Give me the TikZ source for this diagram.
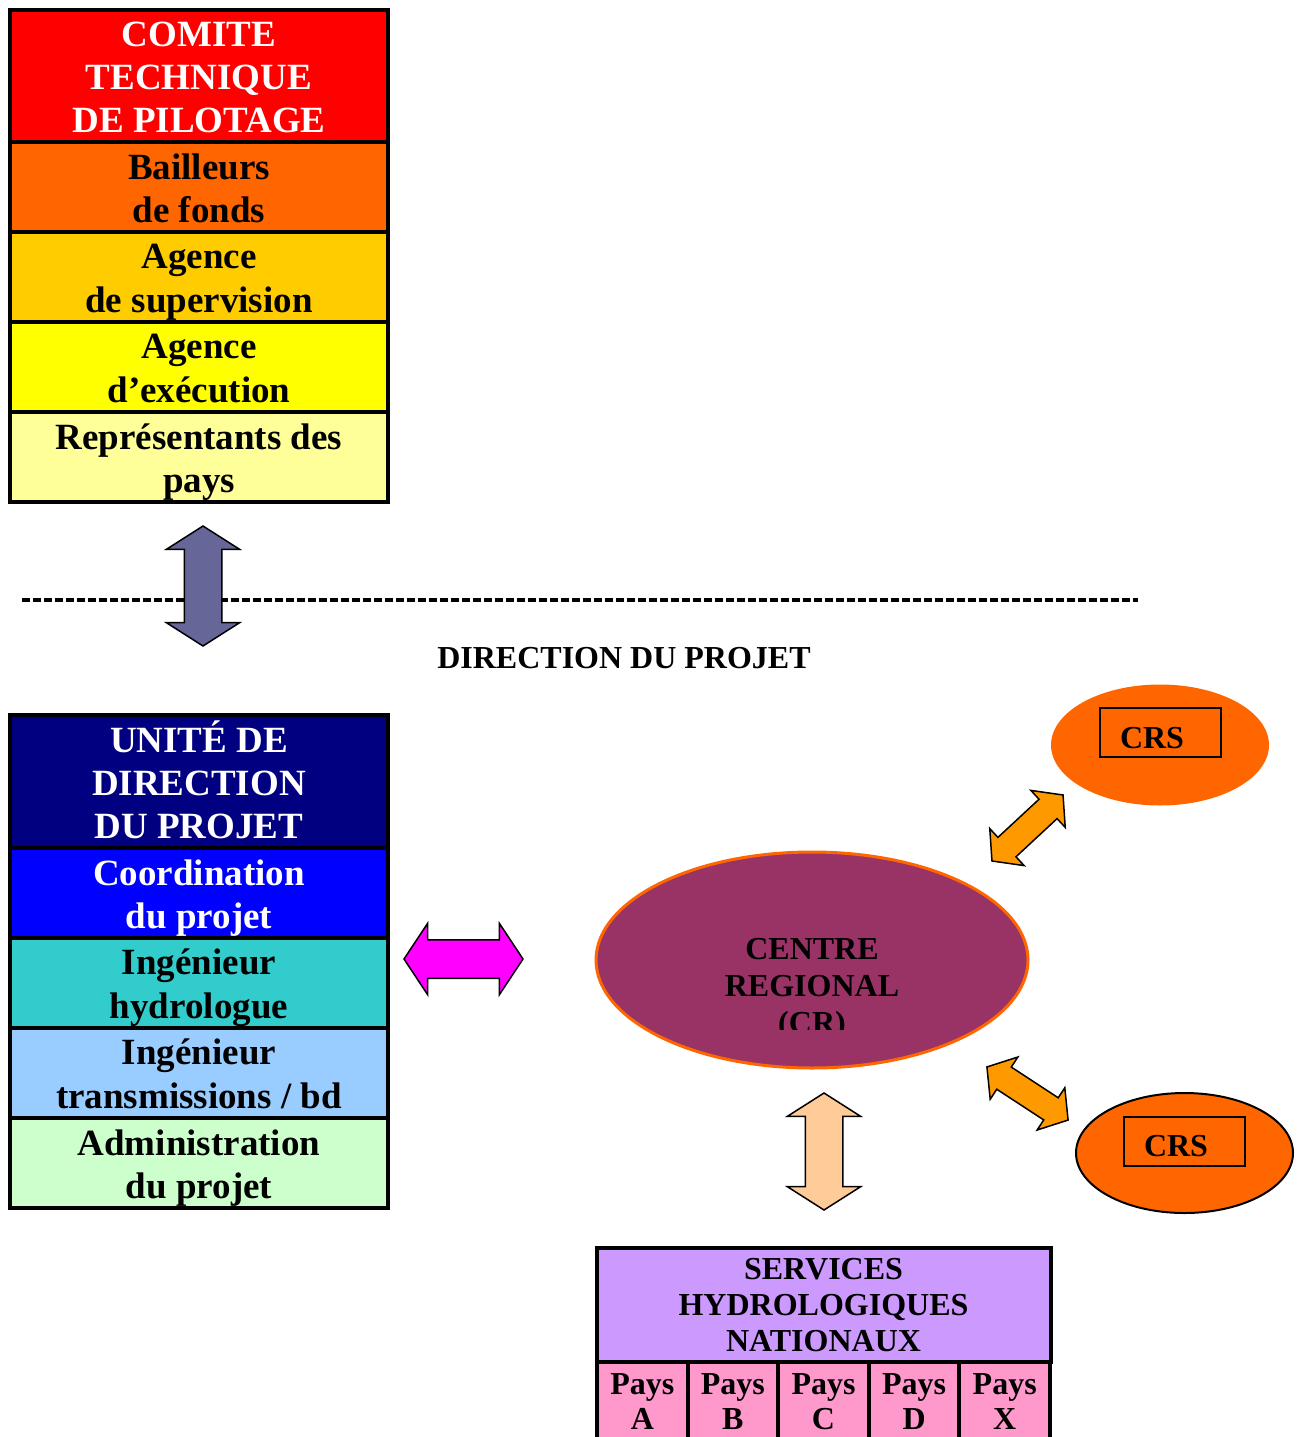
\documentclass[tikz,border=0pt]{standalone}
\usepackage{fontspec}
\setmainfont{Liberation Serif}
\usepackage{tikz}
\usetikzlibrary{positioning,shapes.geometric,shapes.arrows}
\definecolor{pilotred}{HTML}{FF0000}
\definecolor{bailorange}{HTML}{FF6600}
\definecolor{supgold}{HTML}{FFCC00}
\definecolor{execyellow}{HTML}{FFFF00}
\definecolor{paysyellow}{HTML}{FFFF99}
\definecolor{udpnavy}{HTML}{000080}
\definecolor{coordblue}{HTML}{0000FF}
\definecolor{hydroteal}{HTML}{33CCCC}
\definecolor{transblue}{HTML}{99CCFF}
\definecolor{admingreen}{HTML}{CCFFCC}
\definecolor{linkpurple}{HTML}{666699}
\definecolor{linkmagenta}{HTML}{FF00FF}
\definecolor{linkpeach}{HTML}{FFCC99}
\definecolor{linkorange}{HTML}{FF9900}
\definecolor{crplum}{HTML}{993366}
\definecolor{crsorange}{HTML}{FF6600}
\definecolor{shnlilac}{HTML}{CC99FF}
\definecolor{shnpink}{HTML}{FF99CC}
\newcommand{\rs}{\rule[-8pt]{0pt}{43pt}}

\begin{document}
\begin{tikzpicture}[x=1pt, y=-1pt,
  stackrow/.style={draw, line width=3.5pt, outer sep=0pt, inner sep=0pt, minimum width=378pt, align=center,
    font=\bfseries\fontsize{37}{43}\selectfont},
  stackhead/.style={stackrow, minimum height=132pt, text=white},
  stacksub/.style={stackrow, minimum height=90pt},
  labeltxt/.style={font=\bfseries\fontsize{32}{37}\selectfont, align=center, inner sep=0pt},
  blockarrow/.style={double arrow, draw, line width=1.5pt, inner sep=18pt, outer sep=0pt,
    double arrow head extend=18pt, double arrow tip angle=115, minimum height=120pt},
  diaglink/.style={blockarrow, fill=linkorange, inner sep=12.5pt, double arrow head extend=12pt,
    double arrow tip angle=102, minimum height=97pt},
  crsblob/.style={ellipse, fill=crsorange, inner sep=0pt, minimum width=218pt, minimum height=121pt},
  crsframe/.style={draw, line width=2pt, inner sep=0pt, minimum width=121pt, minimum height=49pt},
  shnbox/.style={draw, line width=4pt, outer sep=0pt, inner sep=0pt, align=center,
    font=\bfseries\fontsize{32}{36}\selectfont}]
  \useasboundingbox (0,0) rectangle (1297,1437);

  % comite de pilotage
  \node[stackhead, fill=pilotred] (ctp) at (199,76) {\rs COMITE\\TECHNIQUE\\DE PILOTAGE\rs};
  \node[stacksub, fill=bailorange, below=0pt of ctp] (bail) {\rs Bailleurs\\de fonds\rs};
  \node[stacksub, fill=supgold, below=0pt of bail] (sup) {\rs Agence\\de supervision\rs};
  \node[stacksub, fill=execyellow, below=0pt of sup] (exec) {\rs Agence\\d’exécution\rs};
  \node[stacksub, fill=paysyellow, below=0pt of exec] (rep) {\rs Représentants des\\pays\rs};

  % separation
  \coordinate (dashL) at (22,600);
  \coordinate (dashR) at (1138,600);
  \draw[line width=4pt, dash pattern=on 8pt off 3pt] (dashL) -- (dashR);
  \node[labeltxt] (dirp) at (624,658) {DIRECTION DU PROJET};
  \node[blockarrow, fill=linkpurple, rotate=90] (ctlink) at (203,586) {};

  % unite de direction
  \node[stackhead, fill=udpnavy, minimum height=133pt] (udp) at (199,781.5) {\rs UNITÉ DE\\DIRECTION\\DU PROJET\rs};
  \node[stacksub, fill=coordblue, text=white, below=0pt of udp] (coord) {\rs Coordination\\du projet\rs};
  \node[stacksub, fill=hydroteal, below=0pt of coord] (hydro) {\rs Ingénieur\\hydrologue\rs};
  \node[stacksub, fill=transblue, below=0pt of hydro] (trans) {\rs Ingénieur\\transmissions / bd\rs};
  \node[stacksub, fill=admingreen, below=0pt of trans] (admin) {\rs Administration\\du projet\rs};
  \node[blockarrow, fill=linkmagenta, minimum height=119pt, inner sep=18.5pt,
        double arrow head extend=16.5pt, double arrow tip angle=113] (udlink) at (463.5,959) {};

  % centre regional
  \node[ellipse, draw=crsorange, line width=3pt, fill=crplum, minimum width=432pt, minimum height=216pt] (cr) at (812,960) {};
  \begin{scope}
    \clip (600,900) rectangle (1024,1029);
    \node[labeltxt] (crtxt) at (812,989) {CENTRE\\REGIONAL\\(CR)};
  \end{scope}

  % CRS
  \node[crsblob] (crs1) at (1160,745) {};
  \node[crsframe] (crs1box) at (1160.5,732.5) {};
  \node[labeltxt, anchor=base] (crs1txt) at (1152,748) {CRS};
  \node[crsblob, draw, line width=2pt, minimum width=217pt, minimum height=120pt] (crs2) at (1184.5,1153) {};
  \node[crsframe] (crs2box) at (1184,1141) {};
  \node[labeltxt, anchor=base] (crs2txt) at (1176,1156) {CRS};
  \node[diaglink, rotate=42.9] (crs1link) at (1027.5,828) {};
  \node[diaglink, rotate=-33.2] (crs2link) at (1027.5,1093.5) {};

  % services hydrologiques
  \node[blockarrow, fill=linkpeach, rotate=90, minimum height=117pt] (shlink) at (824,1151.5) {};
  \node[shnbox, fill=shnlilac, minimum width=454pt, minimum height=114pt] (shn) at (823.5,1305) {SERVICES\\HYDROLOGIQUES\\NATIONAUX};
  \foreach \p [count=\i] in {A,B,C,D,X}
    \node[shnbox, fill=shnpink, minimum width=90.6pt, minimum height=80pt,
          font=\bfseries\fontsize{32}{35}\selectfont] (pays\p) at ({551.7+90.6*\i},1402) {Pays\\\p};
\end{tikzpicture}
\end{document}
